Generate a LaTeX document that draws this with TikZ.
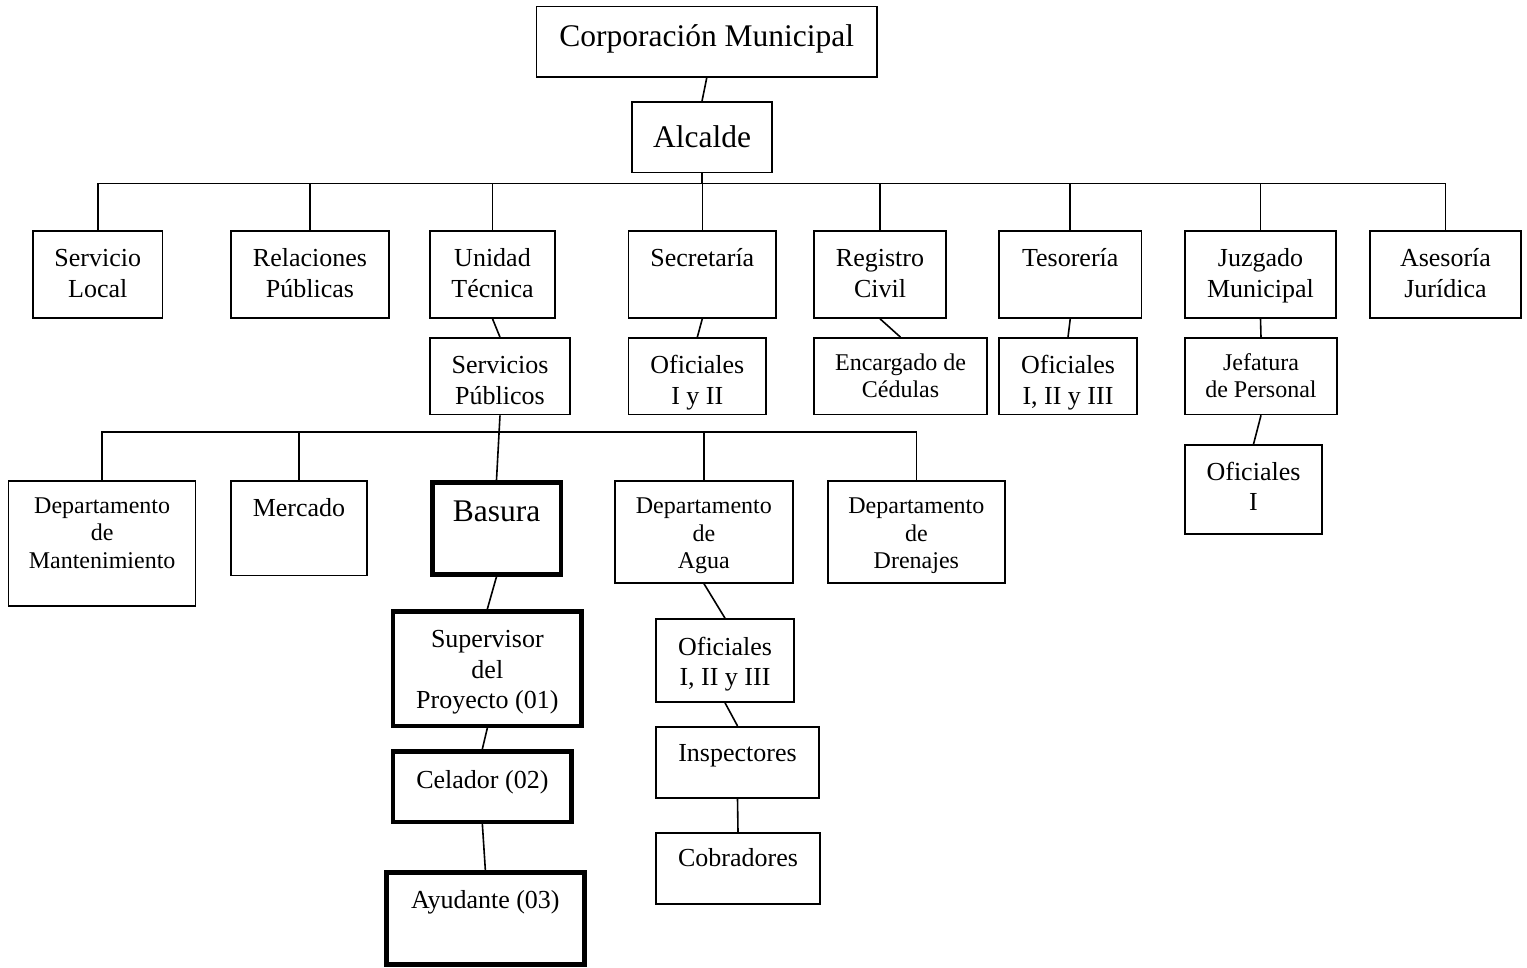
\documentclass[tikz,border=0pt]{standalone}
\usepackage{fontspec}
\setmainfont{Liberation Serif}
\begin{document}
\begin{tikzpicture}[x=1pt,y=-1pt,
  box/.style={draw, rectangle, line width=1.6pt, inner sep=0pt},
  thickbox/.style={draw, rectangle, line width=4.5pt, inner sep=0pt},
  conn/.style={line width=1.6pt},
  txt/.style={align=center, inner sep=0pt, anchor=base, font=\fontsize{26}{30.5}\selectfont},
  txts/.style={align=center, inner sep=0pt, anchor=base, font=\fontsize{24}{27.3}\selectfont},
  txtl/.style={align=center, inner sep=0pt, anchor=base, font=\fontsize{31.5}{36}\selectfont}]
\useasboundingbox (0,0) rectangle (1527,968);
% boxes
\node[box, minimum width=340.5pt, minimum height=70.5pt] (corp) at (706.75,41.75) {};
\node[box, minimum width=140pt, minimum height=70.5pt] (alc) at (702,137.25) {};
% row 1
\node[box, minimum width=129.5pt, minimum height=87pt] (sl) at (97.75,274.5) {};
\node[box, minimum width=158pt, minimum height=87pt] (rp) at (310,274.5) {};
\node[box, minimum width=125pt, minimum height=87pt] (ut) at (492.5,274.5) {};
\node[box, minimum width=147.4pt, minimum height=87pt] (sec) at (702.3,274.5) {};
\node[box, minimum width=132pt, minimum height=87pt] (rc) at (880,274.5) {};
\node[box, minimum width=142.5pt, minimum height=87pt] (tes) at (1070.25,274.5) {};
\node[box, minimum width=151pt, minimum height=87pt] (jm) at (1260.5,274.5) {};
\node[box, minimum width=151pt, minimum height=87pt] (aj) at (1445.5,274.5) {};
% row 2
\node[box, minimum width=140pt, minimum height=76.5pt] (sp) at (500,376.25) {};
\node[box, minimum width=137.4pt, minimum height=76.5pt] (o12) at (697.3,376.25) {};
\node[box, minimum width=173pt, minimum height=76.5pt] (ec) at (900.5,376.25) {};
\node[box, minimum width=138pt, minimum height=76.5pt] (o123) at (1068,376.25) {};
\node[box, minimum width=152pt, minimum height=76.5pt] (jp) at (1261,376.25) {};
\node[box, minimum width=137pt, minimum height=89pt] (oi) at (1253.5,489.5) {};
% row 3
\node[box, minimum width=187pt, minimum height=125.3pt] (dm) at (102.15,543.35) {};
\node[box, minimum width=136pt, minimum height=94.6pt] (me) at (299,528) {};
\node[thickbox, minimum width=128.5pt, minimum height=92.2pt] (ba) at (496.5,528.35) {};
\node[box, minimum width=177.7pt, minimum height=102pt] (da) at (703.85,531.7) {};
\node[box, minimum width=177.3pt, minimum height=102pt] (dd) at (916.35,531.7) {};
% lower chains
\node[thickbox, minimum width=188.7pt, minimum height=114.5pt] (sup) at (487.35,668.5) {};
\node[thickbox, minimum width=178.7pt, minimum height=70.5pt] (cel) at (482.35,786.5) {};
\node[thickbox, minimum width=198.2pt, minimum height=92.25pt] (ay) at (485.35,918.4) {};
\node[box, minimum width=138pt, minimum height=83pt] (oa) at (725,660.5) {};
\node[box, minimum width=163pt, minimum height=71pt] (ins) at (737.5,762.2) {};
\node[box, minimum width=164pt, minimum height=71.3pt] (cob) at (738,868.35) {};
% texts (base anchor = baseline of the last line)
\node[txtl] (corpT) at (706.75,46.7) {Corporación Municipal};
\node[txtl] (alcT) at (702,148) {Alcalde};
\node[txt] (slT) at (97.75,297.5) {Servicio\\Local};
\node[txt] (rpT) at (310,297.5) {Relaciones\\Públicas};
\node[txt] (utT) at (492.5,297.5) {Unidad\\Técnica};
\node[txt] (secT) at (702.3,267) {Secretaría};
\node[txt] (rcT) at (880,297.5) {Registro\\Civil};
\node[txt] (tesT) at (1070.25,267) {Tesorería};
\node[txt] (jmT) at (1260.5,297.5) {Juzgado\\Municipal};
\node[txt] (ajT) at (1445.5,297.5) {Asesoría\\Jurídica};
\node[txt] (spT) at (500,404) {Servicios\\Públicos};
\node[txt] (o12T) at (697.3,404) {Oficiales\\I y II};
\node[txts] (ecT) at (900.5,397.5) {Encargado de\\Cédulas};
\node[txt] (o123T) at (1068,404) {Oficiales\\I, II y III};
\node[txts] (jpT) at (1261,397.5) {Jefatura\\de Personal};
\node[txt] (oiT) at (1253.5,510.5) {Oficiales\\I};
\node[txts] (dmT) at (102.15,568) {Departamento\\de\\Mantenimiento};
\node[txt] (meT) at (299,516.7) {Mercado};
\node[txtl] (baT) at (496.5,521.7) {Basura};
\node[txts] (daT) at (703.85,568.5) {Departamento\\de\\Agua};
\node[txts] (ddT) at (916.35,568.5) {Departamento\\de\\Drenajes};
\node[txt] (supT) at (487.35,708.5) {Supervisor\\del\\Proyecto (01)};
\node[txt] (celT) at (482.35,788.3) {Celador (02)};
\node[txt] (ayT) at (485.35,908) {Ayudante (03)};
\node[txt] (oaT) at (725,685.5) {Oficiales\\I, II y III};
\node[txt] (insT) at (737.5,761.7) {Inspectores};
\node[txt] (cobT) at (738,866.7) {Cobradores};
% buses
\coordinate (busA) at (0,183.5);
\coordinate (busB) at (0,432);
\draw[conn] (alc.south) -- (alc.south |- busA);
\draw[conn] (sl.north) -- (sl.north |- busA) -- (aj.north |- busA) -- (aj.north);
\foreach \n in {rp,ut,sec,rc,tes,jm} \draw[conn] (\n.north) -- (\n.north |- busA);
\draw[conn] (dm.north) -- (dm.north |- busB) -- (dd.north |- busB) -- (dd.north);
\foreach \n in {me,da} \draw[conn] (\n.north) -- (\n.north |- busB);
% direct links
\foreach \a/\b in {corp/alc, ut/sp, sec/o12, rc/ec, tes/o123, jm/jp, jp/oi, sp/ba, ba/sup, sup/cel, cel/ay, da/oa, oa/ins, ins/cob}
  \draw[conn] (\a.south) -- (\b.north);
\end{tikzpicture}
\end{document}
